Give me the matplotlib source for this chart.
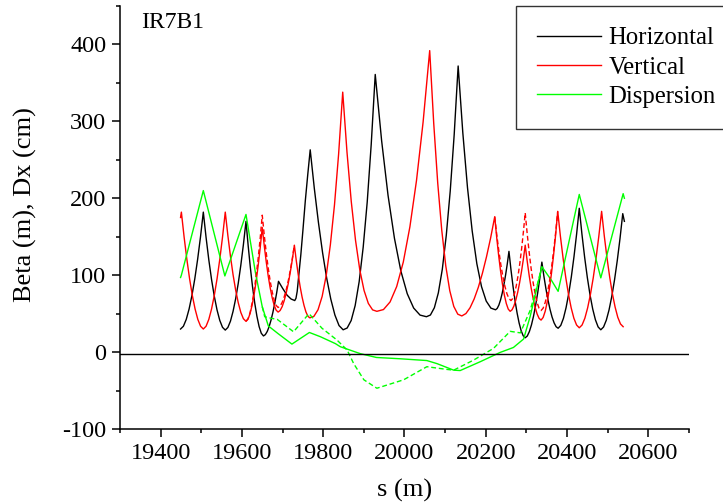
import matplotlib
matplotlib.use("Agg")
import matplotlib.pyplot as plt

plt.rcParams['font.family'] = ['Liberation Serif', 'DejaVu Serif']
plt.rcParams['axes.unicode_minus'] = False

# horizontal beta (m)
s_bx = [19449, 19456, 19463, 19470, 19477, 19484, 19491, 19498, 19505,
        19511.75, 19518.5, 19525.25, 19532, 19538.75, 19545.5, 19552.25, 19559,
        19565.4, 19571.75, 19578.1, 19584.5, 19590.9, 19597.25, 19603.6, 19610,
        19615.4, 19620.75, 19626.1, 19631.5, 19636.9, 19642.25, 19647.6, 19653,
        19657.6, 19662.25, 19666.9, 19671.5, 19676.1, 19680.75, 19685.4, 19690,
        19700, 19711, 19721, 19730, 19733, 19736, 19740, 19745, 19750, 19756, 19762, 19768,
        19778.1, 19788.25, 19798.4, 19808.5, 19818.6, 19828.75, 19838.9, 19849,
        19858.9, 19868.75, 19878.6, 19888.5, 19898.4, 19908.25, 19918.1, 19928,
        19943.75, 19959.5, 19975.25, 19991, 20006.75, 20022.5, 20038.25, 20054,
        20063.75, 20073.5, 20083.25, 20093, 20102.75, 20112.5, 20122.25, 20132,
        20143.5, 20155, 20166.5, 20178, 20189.5, 20201, 20212.5, 20224,
        20228.1, 20232.25, 20236.4, 20240.5, 20244.6, 20248.75, 20252.9, 20257,
        20262, 20267, 20272, 20277, 20282, 20287, 20292, 20297,
        20302.1, 20307.25, 20312.4, 20317.5, 20322.6, 20327.75, 20332.9, 20338,
        20343, 20348, 20353, 20358, 20363, 20368, 20373, 20378,
        20384.5, 20391, 20397.5, 20404, 20410.5, 20417, 20423.5, 20430,
        20436.6, 20443.25, 20449.9, 20456.5, 20463.1, 20469.75, 20476.4, 20483,
        20489.75, 20496.5, 20503.25, 20510, 20516.75, 20523.5, 20530.25, 20537, 20541]
beta_x = [30, 33.6, 42.5, 56, 73.6, 95.2, 120.6, 149.5, 182,
          149.2, 120, 94.4, 72.6, 54.8, 41.2, 32.2, 28.6,
          32, 40.2, 52.8, 69.2, 89.3, 112.9, 139.7, 170,
          138.1, 109.8, 84.9, 63.8, 46.5, 33.2, 24.5, 21,
          22.7, 26.8, 33.1, 41.4, 51.5, 63.3, 76.8, 92,
          83, 74, 69, 67, 70, 79, 100, 127, 158, 197, 231, 263,
          212.9, 168.5, 129.4, 96.2, 69, 48.2, 34.5, 29,
          31.3, 41, 60.5, 91.7, 136.6, 195, 270, 361,
          274.7, 203.8, 148, 105.5, 75.9, 57.3, 48.1, 46,
          48.2, 57.7, 77, 107.6, 151.6, 209.3, 282.7, 372,
          285, 213.8, 157.7, 114.9, 85.1, 66.4, 57.2, 55,
          56.8, 61.2, 68, 76.8, 87.6, 100.3, 114.7, 131,
          106.9, 85.6, 66.8, 50.9, 37.8, 27.8, 21.3, 18.6,
          20.9, 26.7, 35.4, 46.8, 60.8, 77.2, 96, 117,
          98.6, 82.3, 67.9, 55.7, 45.7, 38.1, 33, 31,
          34.7, 43.8, 57.7, 75.8, 97.9, 124, 153.6, 187,
          153.2, 123.2, 96.8, 74.3, 56, 42, 32.7, 29,
          32.6, 41.4, 54.8, 72.3, 93.8, 119, 147.7, 180, 170]

# vertical beta (m)
s_by = [19449, 19451, 19457.75, 19464.5, 19471.25, 19478, 19484.75, 19491.5, 19498.25, 19505,
        19511.75, 19518.5, 19525.25, 19532, 19538.75, 19545.5, 19552.25, 19559,
        19565.4, 19571.75, 19578.1, 19584.5, 19590.9, 19597.25, 19603.6, 19610,
        19615, 19620, 19625, 19630, 19635, 19640, 19645, 19650,
        19654.9, 19659.75, 19664.6, 19669.5, 19674.4, 19679.25, 19684.1, 19689,
        19694, 19699, 19704, 19709, 19714, 19719, 19724, 19729,
        19733.75, 19738.5, 19743.25, 19748, 19752.75, 19757.5, 19762.25, 19767,
        19777.1, 19787.25, 19797.4, 19807.5, 19817.6, 19827.75, 19837.9, 19848,
        19858.5, 19869, 19879.5, 19890, 19900.5, 19911, 19921.5, 19932,
        19948.25, 19964.5, 19980.75, 19997, 20013.25, 20029.5, 20045.75, 20062,
        20071.9, 20081.75, 20091.6, 20101.5, 20111.4, 20121.25, 20131.1, 20141,
        20151.1, 20161.25, 20171.4, 20181.5, 20191.6, 20201.75, 20211.9, 20222,
        20226.75, 20231.5, 20236.25, 20241, 20245.75, 20250.5, 20255.25, 20260,
        20264.6, 20269.25, 20273.9, 20278.5, 20283.1, 20287.75, 20292.4, 20297,
        20301.9, 20306.75, 20311.6, 20316.5, 20321.4, 20326.25, 20331.1, 20336,
        20341.1, 20346.25, 20351.4, 20356.5, 20361.6, 20366.75, 20371.9, 20377,
        20383.6, 20390.25, 20396.9, 20403.5, 20410.1, 20416.75, 20423.4, 20430,
        20436.9, 20443.75, 20450.6, 20457.5, 20464.4, 20471.25, 20478.1, 20485,
        20491.6, 20498.25, 20504.9, 20511.5, 20518.1, 20524.75, 20531.4, 20538]
beta_y = [175, 182, 149.5, 120.6, 95.2, 73.6, 56, 42.5, 33.6, 30,
          33.6, 42.5, 56, 73.6, 95.2, 120.6, 149.5, 182,
          151.6, 124.6, 100.9, 80.8, 64.3, 51.6, 43.4, 40,
          42.9, 50, 60.9, 75, 92.3, 112.7, 135.9, 162,
          138.5, 117.6, 99.2, 83.6, 70.8, 61, 54.6, 52,
          54.1, 59.1, 66.9, 77, 89.3, 103.9, 120.4, 139,
          118.8, 100.8, 85, 71.6, 60.7, 52.2, 46.7, 44.5,
          46.5, 55.1, 72.4, 100, 139.6, 191.5, 257.5, 338,
          260, 195.8, 145.3, 106.9, 80.1, 63.3, 54.9, 53,
          55.3, 65.2, 85.2, 117, 162.8, 223, 299, 392,
          297.5, 219.8, 158.8, 112.2, 79.8, 59.4, 49.3, 47,
          50.1, 57.6, 69.1, 84, 102.3, 123.9, 148.4, 176,
          149.7, 126.3, 105.8, 88.3, 74, 63.1, 55.9, 53,
          55, 60, 67.7, 77.7, 89.9, 104.3, 120.6, 139,
          118.2, 99.6, 83.4, 69.6, 58.3, 49.6, 43.9, 41.6,
          45, 53.2, 65.8, 82.2, 102.3, 125.9, 152.7, 183,
          150.6, 121.8, 96.6, 75.1, 57.5, 44, 35.2, 31.6,
          35.2, 44, 57.5, 75.1, 96.6, 121.8, 150.6, 183,
          150.9, 122.4, 97.4, 76, 58.7, 45.3, 36.6, 33]

# vertical beta, second optics (only where it differs)
s_by2a = [19610, 19615, 19620, 19625, 19630, 19635, 19640, 19645, 19650,
          19654.9, 19659.75, 19664.6, 19669.5, 19674.4, 19679.25, 19684.1, 19689,
          19694, 19699, 19704, 19709, 19714, 19719, 19724, 19729]
beta_y2a = [40, 43.3, 51.3, 63.6, 79.6, 99.2, 122.2, 148.5, 178,
            152.3, 129.5, 109.5, 92.4, 78.5, 67.8, 60.8, 58,
            59.9, 64.6, 71.9, 81.2, 92.7, 106.3, 121.7, 139]
s_by2b = [20222, 20227, 20232, 20237, 20242, 20247, 20252, 20257, 20262,
          20266.4, 20270.75, 20275.1, 20279.5, 20283.9, 20288.25, 20292.6, 20297,
          20301.9, 20306.75, 20311.6, 20316.5, 20321.4, 20326.25, 20331.1, 20336,
          20341.1, 20346.25, 20351.4, 20356.5, 20361.6, 20366.75, 20371.9, 20377]
beta_y2b = [176, 152.7, 132, 113.8, 98.3, 85.6, 75.9, 69.6, 67,
            69.7, 76.3, 86.5, 99.7, 115.9, 134.9, 156.6, 181,
            153.8, 129.7, 108.5, 90.4, 75.7, 64.4, 57, 54,
            57.1, 64.6, 76.1, 91, 109.3, 130.9, 155.4, 183]

# horizontal dispersion (cm)
s_dx = [19449, 19451, 19505, 19558, 19610, 19633, 19650, 19665, 19689, 19723,
        19766, 19793, 19830, 19842, 19891, 19931, 19990, 20055, 20080, 20121,
        20137, 20186, 20235, 20268, 20293, 20309, 20338, 20362, 20378, 20430,
        20483, 20538, 20541]
disp_x = [97, 100, 210, 99, 179, 104, 59, 34, 24, 10.4,
          25.5, 20, 11, 7, -2, -7, -8.7, -11, -15, -23.5,
          -24, -12.6, -0.5, 6, 17, 46, 111, 93, 79, 205,
          96.5, 206, 200]

# dispersion, second optics
s_dx2 = [19650, 19656, 19672, 19687, 19727, 19765, 19797, 19834, 19859, 19875,
         19900, 19932, 19998, 20055, 20104, 20121, 20170, 20219, 20260, 20285,
         20309, 20321, 20338]
disp_x2 = [59, 46, 44, 42.5, 26.4, 50, 31, 15.6, 2.6, -15,
           -36, -47, -36, -19, -22.5, -23.5, -10.4, 4.8, 27, 25,
           54, 76, 111]

fig = plt.figure(figsize=(7.23, 5.04), dpi=100)
ax = fig.add_axes([120 / 723, 1 - 429 / 504, 569 / 723, 423 / 504])

dash = (3.5, 2)
ax.plot(s_bx, beta_x, color='black', lw=1.0, label='Horizontal')
ax.plot(s_by, beta_y, color='red', lw=1.0, label='Vertical')
ax.plot(s_dx, disp_x, color='#00ff00', lw=1.0, label='Dispersion')
ax.plot(s_by2a, beta_y2a, color='red', lw=1.0, dashes=dash)
ax.plot(s_by2b, beta_y2b, color='red', lw=1.0, dashes=dash)
ax.plot(s_dx2, disp_x2, color='#00ff00', lw=1.0, dashes=dash)
ax.axhline(-2, color='black', lw=1.0)

ax.set_xlim(19300, 20700)
ax.set_ylim(-100, 450)
ax.set_xticks([19400, 19600, 19800, 20000, 20200, 20400, 20600])
ax.set_xticks(range(19300, 20701, 100), minor=True)
ax.set_yticks([-100, 0, 100, 200, 300, 400])
ax.set_yticks(range(-100, 451, 50), minor=True)
ax.tick_params(which='major', length=5.8, width=1.1, labelsize=17.5, pad=4)
ax.tick_params(which='minor', length=3.2, width=1.1)
for side in ['top', 'right']:
    ax.spines[side].set_visible(False)
for side in ['left', 'bottom']:
    ax.spines[side].set_linewidth(1.1)

ax.set_xlabel('s (m)', fontsize=19, labelpad=11)
fig.text(25 / 723, 1 - 205 / 504, 'Beta (m), Dx (cm)', fontsize=19,
         rotation=90, ha='center', va='center')
fig.text(141 / 723, 1 - 28 / 504, 'IR7B1', fontsize=17, ha='left', va='baseline')

leg = ax.legend(loc='upper left', bbox_to_anchor=(516 / 723, 1 - 6 / 504),
                bbox_transform=fig.transFigure, fontsize=17.8, frameon=True,
                fancybox=False, borderpad=0.85, handlelength=2.6,
                handletextpad=0.3, labelspacing=0.28, borderaxespad=0)
leg.get_frame().set_edgecolor('black')
leg.get_frame().set_linewidth(1.0)

fig.savefig('out.png', dpi=100)
